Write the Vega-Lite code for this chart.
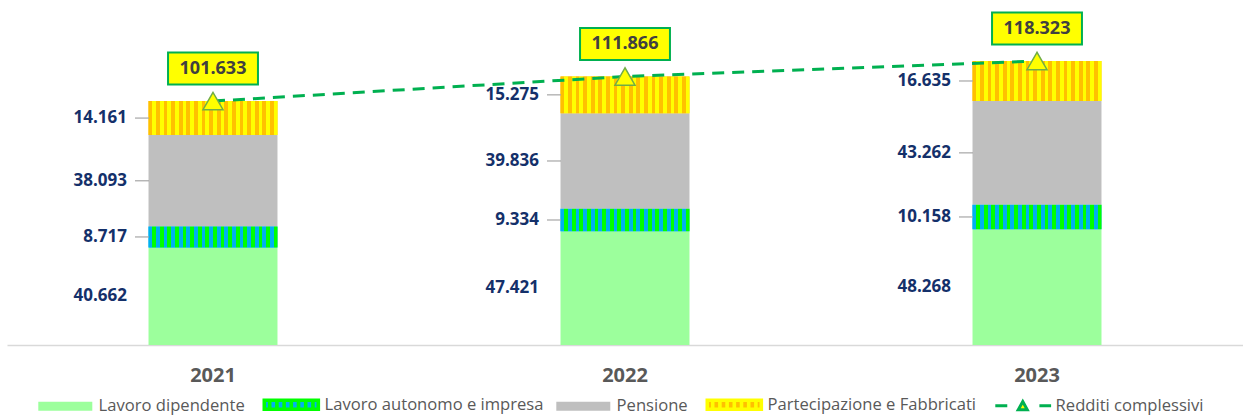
{
  "$schema": "https://vega.github.io/schema/vega-lite/v6.json",
  "width": 1236,
  "height": 345,
  "autosize": {"type": "none"},
  "padding": {"left": 7, "top": 0, "right": 0, "bottom": 72},
  "config": {"view": {"stroke": null}},
  "datasets": {
    "redditi": [
      {"anno": "2021", "categoria": "Lavoro dipendente", "valore": 40.662},
      {"anno": "2021", "categoria": "Lavoro autonomo e impresa", "valore": 8.717},
      {"anno": "2021", "categoria": "Pensione", "valore": 38.093},
      {"anno": "2021", "categoria": "Partecipazione e Fabbricati", "valore": 14.161},
      {"anno": "2022", "categoria": "Lavoro dipendente", "valore": 47.421},
      {"anno": "2022", "categoria": "Lavoro autonomo e impresa", "valore": 9.334},
      {"anno": "2022", "categoria": "Pensione", "valore": 39.836},
      {"anno": "2022", "categoria": "Partecipazione e Fabbricati", "valore": 15.275},
      {"anno": "2023", "categoria": "Lavoro dipendente", "valore": 48.268},
      {"anno": "2023", "categoria": "Lavoro autonomo e impresa", "valore": 10.158},
      {"anno": "2023", "categoria": "Pensione", "valore": 43.262},
      {"anno": "2023", "categoria": "Partecipazione e Fabbricati", "valore": 16.635}
    ],
    "totali": [
      {"anno": "2021", "totale": 101.633},
      {"anno": "2022", "totale": 111.866},
      {"anno": "2023", "totale": 118.323}
    ]
  },
  "layer": [
    {
      "data": {"name": "redditi"},
      "transform": [
        {"calculate": "indexof(['Lavoro dipendente','Lavoro autonomo e impresa','Pensione','Partecipazione e Fabbricati'], datum.categoria)", "as": "ordine"},
        {"stack": "valore", "groupby": ["anno"], "sort": [{"field": "ordine", "order": "ascending"}], "as": ["v0", "v1"]},
        {"calculate": "(datum.v0 + datum.v1) / 2", "as": "mid"}
      ],
      "layer": [
        {
          "mark": {"type": "bar"},
          "encoding": {
            "x": {
              "field": "anno", "type": "nominal",
              "scale": {"type": "band", "paddingInner": 0.687, "paddingOuter": 0.3435},
              "axis": {"title": null, "ticks": false, "grid": false, "labelAngle": 0, "domainColor": "#D9D9D9", "domainWidth": 1.5, "labelFont": "Open Sans", "labelFontSize": 20, "labelFontWeight": "bold", "labelColor": "#595959", "labelPadding": 20}
            },
            "y": {"field": "v0", "type": "quantitative", "scale": {"domain": [0, 143.75], "nice": false}, "axis": null},
            "y2": {"field": "v1"},
            "fill": {
              "field": "categoria", "type": "nominal",
              "scale": {
                "domain": ["Lavoro dipendente", "Lavoro autonomo e impresa", "Pensione", "Partecipazione e Fabbricati", "Redditi complessivi"],
                "range": ["#9CFF9C", "#00B0F0", "#BFBFBF", "#FFC000", "#FFFF00"]
              },
              "legend": {
                "orient": "none",
                "legendX": 32,
                "legendY": 396.5,
                "direction": "horizontal",
                "title": null,
                "padding": 0,
                "symbolType": "M-1,-0.5H5V0.5H-1Z",
                "symbolSize": 324,
                "symbolStrokeWidth": 0,
                "labelOffset": 43,
                "columnPadding": 12,
                "labelFont": "Open Sans",
                "labelFontSize": 16.6,
                "labelColor": "#595959",
                "labelLimit": 400,
                "encode": {
                  "symbols": {
                    "update": {
                      "shape": {"signal": "datum.value === 'Redditi complessivi' ? 'M-1,0H0.33M3.9,0H5.2M2.05,-0.45L2.55,0.45H1.55Z' : datum.value === 'Lavoro autonomo e impresa' || datum.value === 'Partecipazione e Fabbricati' ? 'M-1,-0.5H5V0.5H-1ZM-0.4,-0.3V0.3M0.4,-0.3V0.3M1.2,-0.3V0.3M2,-0.3V0.3M2.8,-0.3V0.3M3.6,-0.3V0.3M4.4,-0.3V0.3' : 'M-1,-0.5H5V0.5H-1Z'"},
                      "stroke": {"signal": "datum.value === 'Redditi complessivi' ? '#00B050' : datum.value === 'Lavoro autonomo e impresa' ? '#00FF00' : datum.value === 'Partecipazione e Fabbricati' ? '#FFFF00' : 'transparent'"},
                      "strokeWidth": {"signal": "datum.value === 'Redditi complessivi' ? 3 : datum.value === 'Lavoro autonomo e impresa' || datum.value === 'Partecipazione e Fabbricati' ? 3.6 : 0"},
                      "strokeCap": {"value": "butt"}
                    }
                  }
                }
              }
            }
          }
        },
        {
          "transform": [{"filter": "datum.categoria === 'Lavoro autonomo e impresa'"}],
          "mark": {"type": "bar", "fill": {"gradient": "linear", "x1": 0, "y1": 0, "x2": 1, "y2": 0, "stops": [
                    {"offset": 0, "color": "#00B0F0"}, {"offset": 0.0294, "color": "#00B0F0"}, {"offset": 0.0294, "color": "#00FF00"}, {"offset": 0.0588, "color": "#00FF00"},
                    {"offset": 0.0588, "color": "#00B0F0"}, {"offset": 0.0882, "color": "#00B0F0"}, {"offset": 0.0882, "color": "#00FF00"}, {"offset": 0.1176, "color": "#00FF00"},
                    {"offset": 0.1176, "color": "#00B0F0"}, {"offset": 0.1471, "color": "#00B0F0"}, {"offset": 0.1471, "color": "#00FF00"}, {"offset": 0.1765, "color": "#00FF00"},
                    {"offset": 0.1765, "color": "#00B0F0"}, {"offset": 0.2059, "color": "#00B0F0"}, {"offset": 0.2059, "color": "#00FF00"}, {"offset": 0.2353, "color": "#00FF00"},
                    {"offset": 0.2353, "color": "#00B0F0"}, {"offset": 0.2647, "color": "#00B0F0"}, {"offset": 0.2647, "color": "#00FF00"}, {"offset": 0.2941, "color": "#00FF00"},
                    {"offset": 0.2941, "color": "#00B0F0"}, {"offset": 0.3235, "color": "#00B0F0"}, {"offset": 0.3235, "color": "#00FF00"}, {"offset": 0.3529, "color": "#00FF00"},
                    {"offset": 0.3529, "color": "#00B0F0"}, {"offset": 0.3824, "color": "#00B0F0"}, {"offset": 0.3824, "color": "#00FF00"}, {"offset": 0.4118, "color": "#00FF00"},
                    {"offset": 0.4118, "color": "#00B0F0"}, {"offset": 0.4412, "color": "#00B0F0"}, {"offset": 0.4412, "color": "#00FF00"}, {"offset": 0.4706, "color": "#00FF00"},
                    {"offset": 0.4706, "color": "#00B0F0"}, {"offset": 0.5, "color": "#00B0F0"}, {"offset": 0.5, "color": "#00FF00"}, {"offset": 0.5294, "color": "#00FF00"},
                    {"offset": 0.5294, "color": "#00B0F0"}, {"offset": 0.5588, "color": "#00B0F0"}, {"offset": 0.5588, "color": "#00FF00"}, {"offset": 0.5882, "color": "#00FF00"},
                    {"offset": 0.5882, "color": "#00B0F0"}, {"offset": 0.6176, "color": "#00B0F0"}, {"offset": 0.6176, "color": "#00FF00"}, {"offset": 0.6471, "color": "#00FF00"},
                    {"offset": 0.6471, "color": "#00B0F0"}, {"offset": 0.6765, "color": "#00B0F0"}, {"offset": 0.6765, "color": "#00FF00"}, {"offset": 0.7059, "color": "#00FF00"},
                    {"offset": 0.7059, "color": "#00B0F0"}, {"offset": 0.7353, "color": "#00B0F0"}, {"offset": 0.7353, "color": "#00FF00"}, {"offset": 0.7647, "color": "#00FF00"},
                    {"offset": 0.7647, "color": "#00B0F0"}, {"offset": 0.7941, "color": "#00B0F0"}, {"offset": 0.7941, "color": "#00FF00"}, {"offset": 0.8235, "color": "#00FF00"},
                    {"offset": 0.8235, "color": "#00B0F0"}, {"offset": 0.8529, "color": "#00B0F0"}, {"offset": 0.8529, "color": "#00FF00"}, {"offset": 0.8824, "color": "#00FF00"},
                    {"offset": 0.8824, "color": "#00B0F0"}, {"offset": 0.9118, "color": "#00B0F0"}, {"offset": 0.9118, "color": "#00FF00"}, {"offset": 0.9412, "color": "#00FF00"},
                    {"offset": 0.9412, "color": "#00B0F0"}, {"offset": 0.9706, "color": "#00B0F0"}, {"offset": 0.9706, "color": "#00FF00"}, {"offset": 1, "color": "#00FF00"}
                  ]}},
          "encoding": {
            "x": {"field": "anno", "type": "nominal"},
            "y": {"field": "v0", "type": "quantitative"},
            "y2": {"field": "v1"}
          }
        },
        {
          "transform": [{"filter": "datum.categoria === 'Partecipazione e Fabbricati'"}],
          "mark": {"type": "bar", "fill": {"gradient": "linear", "x1": 0, "y1": 0, "x2": 1, "y2": 0, "stops": [
                    {"offset": 0, "color": "#FFC000"}, {"offset": 0.0294, "color": "#FFC000"}, {"offset": 0.0294, "color": "#FFFF00"}, {"offset": 0.0588, "color": "#FFFF00"},
                    {"offset": 0.0588, "color": "#FFC000"}, {"offset": 0.0882, "color": "#FFC000"}, {"offset": 0.0882, "color": "#FFFF00"}, {"offset": 0.1176, "color": "#FFFF00"},
                    {"offset": 0.1176, "color": "#FFC000"}, {"offset": 0.1471, "color": "#FFC000"}, {"offset": 0.1471, "color": "#FFFF00"}, {"offset": 0.1765, "color": "#FFFF00"},
                    {"offset": 0.1765, "color": "#FFC000"}, {"offset": 0.2059, "color": "#FFC000"}, {"offset": 0.2059, "color": "#FFFF00"}, {"offset": 0.2353, "color": "#FFFF00"},
                    {"offset": 0.2353, "color": "#FFC000"}, {"offset": 0.2647, "color": "#FFC000"}, {"offset": 0.2647, "color": "#FFFF00"}, {"offset": 0.2941, "color": "#FFFF00"},
                    {"offset": 0.2941, "color": "#FFC000"}, {"offset": 0.3235, "color": "#FFC000"}, {"offset": 0.3235, "color": "#FFFF00"}, {"offset": 0.3529, "color": "#FFFF00"},
                    {"offset": 0.3529, "color": "#FFC000"}, {"offset": 0.3824, "color": "#FFC000"}, {"offset": 0.3824, "color": "#FFFF00"}, {"offset": 0.4118, "color": "#FFFF00"},
                    {"offset": 0.4118, "color": "#FFC000"}, {"offset": 0.4412, "color": "#FFC000"}, {"offset": 0.4412, "color": "#FFFF00"}, {"offset": 0.4706, "color": "#FFFF00"},
                    {"offset": 0.4706, "color": "#FFC000"}, {"offset": 0.5, "color": "#FFC000"}, {"offset": 0.5, "color": "#FFFF00"}, {"offset": 0.5294, "color": "#FFFF00"},
                    {"offset": 0.5294, "color": "#FFC000"}, {"offset": 0.5588, "color": "#FFC000"}, {"offset": 0.5588, "color": "#FFFF00"}, {"offset": 0.5882, "color": "#FFFF00"},
                    {"offset": 0.5882, "color": "#FFC000"}, {"offset": 0.6176, "color": "#FFC000"}, {"offset": 0.6176, "color": "#FFFF00"}, {"offset": 0.6471, "color": "#FFFF00"},
                    {"offset": 0.6471, "color": "#FFC000"}, {"offset": 0.6765, "color": "#FFC000"}, {"offset": 0.6765, "color": "#FFFF00"}, {"offset": 0.7059, "color": "#FFFF00"},
                    {"offset": 0.7059, "color": "#FFC000"}, {"offset": 0.7353, "color": "#FFC000"}, {"offset": 0.7353, "color": "#FFFF00"}, {"offset": 0.7647, "color": "#FFFF00"},
                    {"offset": 0.7647, "color": "#FFC000"}, {"offset": 0.7941, "color": "#FFC000"}, {"offset": 0.7941, "color": "#FFFF00"}, {"offset": 0.8235, "color": "#FFFF00"},
                    {"offset": 0.8235, "color": "#FFC000"}, {"offset": 0.8529, "color": "#FFC000"}, {"offset": 0.8529, "color": "#FFFF00"}, {"offset": 0.8824, "color": "#FFFF00"},
                    {"offset": 0.8824, "color": "#FFC000"}, {"offset": 0.9118, "color": "#FFC000"}, {"offset": 0.9118, "color": "#FFFF00"}, {"offset": 0.9412, "color": "#FFFF00"},
                    {"offset": 0.9412, "color": "#FFC000"}, {"offset": 0.9706, "color": "#FFC000"}, {"offset": 0.9706, "color": "#FFFF00"}, {"offset": 1, "color": "#FFFF00"}
                  ]}},
          "encoding": {
            "x": {"field": "anno", "type": "nominal"},
            "y": {"field": "v0", "type": "quantitative"},
            "y2": {"field": "v1"}
          }
        },
        {
          "transform": [{"filter": "datum.categoria !== 'Lavoro dipendente'"}],
          "mark": {"type": "tick", "orient": "horizontal", "size": 14, "thickness": 1.2, "color": "#A6A6A6", "xOffset": -71, "opacity": 1},
          "encoding": {
            "x": {"field": "anno", "type": "nominal"},
            "y": {"field": "mid", "type": "quantitative"}
          }
        },
        {
          "mark": {"type": "text", "align": "right", "baseline": "middle", "xOffset": -86, "font": "Open Sans", "fontSize": 17, "fontWeight": "bold", "color": "#14306A"},
          "encoding": {
            "x": {"field": "anno", "type": "nominal"},
            "y": {"field": "mid", "type": "quantitative"},
            "text": {"field": "valore", "type": "quantitative", "format": ".3f"}
          }
        }
      ]
    },
    {
      "data": {"name": "totali"},
      "layer": [
        {
          "mark": {"type": "line", "color": "#00B050", "strokeWidth": 3, "strokeDash": [12, 8]},
          "encoding": {
            "x": {"field": "anno", "type": "nominal"},
            "y": {"field": "totale", "type": "quantitative"}
          }
        },
        {
          "mark": {"type": "point", "shape": "triangle-up", "size": 400, "filled": true, "fill": "#FFFF00", "stroke": "#70AD47", "strokeWidth": 1.5, "opacity": 1},
          "encoding": {
            "x": {"field": "anno", "type": "nominal"},
            "y": {"field": "totale", "type": "quantitative"}
          }
        },
        {
          "mark": {"type": "point", "shape": "M-2.81,-1H2.81V1H-2.81Z", "size": 1024, "filled": true, "fill": "#FFFF00", "stroke": "#00B050", "strokeWidth": 2, "opacity": 1, "yOffset": -32.5},
          "encoding": {
            "x": {"field": "anno", "type": "nominal"},
            "y": {"field": "totale", "type": "quantitative"}
          }
        },
        {
          "mark": {"type": "text", "font": "Open Sans", "fontSize": 18, "fontWeight": "bold", "color": "#404040", "baseline": "middle", "align": "center", "yOffset": -32.5},
          "encoding": {
            "x": {"field": "anno", "type": "nominal"},
            "y": {"field": "totale", "type": "quantitative"},
            "text": {"field": "totale", "type": "quantitative", "format": ".3f"}
          }
        }
      ]
    }
  ]
}
